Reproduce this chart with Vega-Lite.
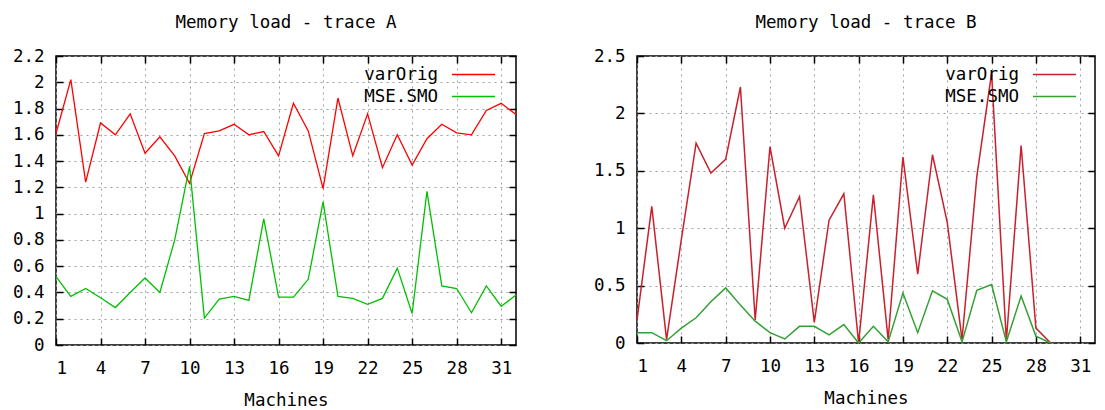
{
  "$schema": "https://vega.github.io/schema/vega-lite/v6.json",
  "background": "white",
  "padding": {"left": 11, "top": 12, "right": 2, "bottom": 2},
  "config": {
    "font": "DejaVu Sans Mono",
    "view": {"stroke": "black", "strokeWidth": 1.5},
    "axis": {
      "labelFont": "DejaVu Sans Mono", "labelFontSize": 17.5, "labelColor": "black",
      "titleFont": "DejaVu Sans Mono", "titleFontSize": 17.5, "titleFontWeight": "normal", "titleColor": "black",
      "domain": false, "tickColor": "black", "tickSize": -7, "tickWidth": 1.5,
      "gridColor": "#a0a0a0", "gridDash": [2, 4], "gridWidth": 1, "gridOpacity": 1
    },
    "axisX": {"labelPadding": 21, "titlePadding": 15},
    "axisY": {"labelPadding": 19},
    "title": {"font": "DejaVu Sans Mono", "fontSize": 17.5, "fontWeight": "normal", "color": "black", "anchor": "middle", "baseline": "bottom", "offset": 16},
    "legend": {
      "orient": "none", "legendX": 406, "legendY": 7, "padding": 0,
      "title": null, "symbolType": "M-2,0H2", "symbolSize": 462, "symbolStrokeWidth": 1.5,
      "labelFont": "DejaVu Sans Mono", "labelFontSize": 17.5, "labelColor": "black",
      "labelAlign": "right", "labelOffset": -47, "rowPadding": 2
    },
    "concat": {"spacing": 72}
  },
  "datasets": {
    "A": [
      {"machine": 1, "series": "varOrig", "value": 1.61},
      {"machine": 2, "series": "varOrig", "value": 2.02},
      {"machine": 3, "series": "varOrig", "value": 1.24},
      {"machine": 4, "series": "varOrig", "value": 1.69},
      {"machine": 5, "series": "varOrig", "value": 1.6},
      {"machine": 6, "series": "varOrig", "value": 1.76},
      {"machine": 7, "series": "varOrig", "value": 1.46},
      {"machine": 8, "series": "varOrig", "value": 1.585},
      {"machine": 9, "series": "varOrig", "value": 1.44},
      {"machine": 10, "series": "varOrig", "value": 1.23},
      {"machine": 11, "series": "varOrig", "value": 1.61},
      {"machine": 12, "series": "varOrig", "value": 1.63},
      {"machine": 13, "series": "varOrig", "value": 1.68},
      {"machine": 14, "series": "varOrig", "value": 1.6},
      {"machine": 15, "series": "varOrig", "value": 1.625},
      {"machine": 16, "series": "varOrig", "value": 1.44},
      {"machine": 17, "series": "varOrig", "value": 1.84},
      {"machine": 18, "series": "varOrig", "value": 1.63},
      {"machine": 19, "series": "varOrig", "value": 1.19},
      {"machine": 20, "series": "varOrig", "value": 1.88},
      {"machine": 21, "series": "varOrig", "value": 1.44},
      {"machine": 22, "series": "varOrig", "value": 1.76},
      {"machine": 23, "series": "varOrig", "value": 1.35},
      {"machine": 24, "series": "varOrig", "value": 1.6},
      {"machine": 25, "series": "varOrig", "value": 1.37},
      {"machine": 26, "series": "varOrig", "value": 1.57},
      {"machine": 27, "series": "varOrig", "value": 1.68},
      {"machine": 28, "series": "varOrig", "value": 1.615},
      {"machine": 29, "series": "varOrig", "value": 1.6},
      {"machine": 30, "series": "varOrig", "value": 1.785},
      {"machine": 31, "series": "varOrig", "value": 1.84},
      {"machine": 32, "series": "varOrig", "value": 1.755},
      {"machine": 1, "series": "MSE.SMO", "value": 0.52},
      {"machine": 2, "series": "MSE.SMO", "value": 0.37},
      {"machine": 3, "series": "MSE.SMO", "value": 0.43},
      {"machine": 4, "series": "MSE.SMO", "value": 0.36},
      {"machine": 5, "series": "MSE.SMO", "value": 0.285},
      {"machine": 6, "series": "MSE.SMO", "value": 0.4},
      {"machine": 7, "series": "MSE.SMO", "value": 0.51},
      {"machine": 8, "series": "MSE.SMO", "value": 0.4},
      {"machine": 9, "series": "MSE.SMO", "value": 0.8},
      {"machine": 10, "series": "MSE.SMO", "value": 1.36},
      {"machine": 11, "series": "MSE.SMO", "value": 0.205},
      {"machine": 12, "series": "MSE.SMO", "value": 0.35},
      {"machine": 13, "series": "MSE.SMO", "value": 0.37},
      {"machine": 14, "series": "MSE.SMO", "value": 0.34},
      {"machine": 15, "series": "MSE.SMO", "value": 0.96},
      {"machine": 16, "series": "MSE.SMO", "value": 0.365},
      {"machine": 17, "series": "MSE.SMO", "value": 0.365},
      {"machine": 18, "series": "MSE.SMO", "value": 0.5},
      {"machine": 19, "series": "MSE.SMO", "value": 1.09},
      {"machine": 20, "series": "MSE.SMO", "value": 0.37},
      {"machine": 21, "series": "MSE.SMO", "value": 0.355},
      {"machine": 22, "series": "MSE.SMO", "value": 0.31},
      {"machine": 23, "series": "MSE.SMO", "value": 0.355},
      {"machine": 24, "series": "MSE.SMO", "value": 0.585},
      {"machine": 25, "series": "MSE.SMO", "value": 0.24},
      {"machine": 26, "series": "MSE.SMO", "value": 1.17},
      {"machine": 27, "series": "MSE.SMO", "value": 0.45},
      {"machine": 28, "series": "MSE.SMO", "value": 0.43},
      {"machine": 29, "series": "MSE.SMO", "value": 0.245},
      {"machine": 30, "series": "MSE.SMO", "value": 0.45},
      {"machine": 31, "series": "MSE.SMO", "value": 0.295},
      {"machine": 32, "series": "MSE.SMO", "value": 0.38}
    ],
    "B": [
      {"machine": 1, "series": "varOrig", "value": 0.2},
      {"machine": 2, "series": "varOrig", "value": 1.19},
      {"machine": 3, "series": "varOrig", "value": 0.03},
      {"machine": 4, "series": "varOrig", "value": 0.9},
      {"machine": 5, "series": "varOrig", "value": 1.74},
      {"machine": 6, "series": "varOrig", "value": 1.48},
      {"machine": 7, "series": "varOrig", "value": 1.6},
      {"machine": 8, "series": "varOrig", "value": 2.23},
      {"machine": 9, "series": "varOrig", "value": 0.2},
      {"machine": 10, "series": "varOrig", "value": 1.71},
      {"machine": 11, "series": "varOrig", "value": 1.0},
      {"machine": 12, "series": "varOrig", "value": 1.275},
      {"machine": 13, "series": "varOrig", "value": 0.18},
      {"machine": 14, "series": "varOrig", "value": 1.07},
      {"machine": 15, "series": "varOrig", "value": 1.3},
      {"machine": 16, "series": "varOrig", "value": 0.0},
      {"machine": 17, "series": "varOrig", "value": 1.29},
      {"machine": 18, "series": "varOrig", "value": 0.03},
      {"machine": 19, "series": "varOrig", "value": 1.62},
      {"machine": 20, "series": "varOrig", "value": 0.6},
      {"machine": 21, "series": "varOrig", "value": 1.64},
      {"machine": 22, "series": "varOrig", "value": 1.05},
      {"machine": 23, "series": "varOrig", "value": 0.03},
      {"machine": 24, "series": "varOrig", "value": 1.45},
      {"machine": 25, "series": "varOrig", "value": 2.35},
      {"machine": 26, "series": "varOrig", "value": 0.02},
      {"machine": 27, "series": "varOrig", "value": 1.72},
      {"machine": 28, "series": "varOrig", "value": 0.13},
      {"machine": 29, "series": "varOrig", "value": 0.0},
      {"machine": 1, "series": "MSE.SMO", "value": 0.09},
      {"machine": 2, "series": "MSE.SMO", "value": 0.09},
      {"machine": 3, "series": "MSE.SMO", "value": 0.02},
      {"machine": 4, "series": "MSE.SMO", "value": 0.13},
      {"machine": 5, "series": "MSE.SMO", "value": 0.22},
      {"machine": 6, "series": "MSE.SMO", "value": 0.36},
      {"machine": 7, "series": "MSE.SMO", "value": 0.48},
      {"machine": 8, "series": "MSE.SMO", "value": 0.33},
      {"machine": 9, "series": "MSE.SMO", "value": 0.19},
      {"machine": 10, "series": "MSE.SMO", "value": 0.09},
      {"machine": 11, "series": "MSE.SMO", "value": 0.035},
      {"machine": 12, "series": "MSE.SMO", "value": 0.145},
      {"machine": 13, "series": "MSE.SMO", "value": 0.145},
      {"machine": 14, "series": "MSE.SMO", "value": 0.07},
      {"machine": 15, "series": "MSE.SMO", "value": 0.16},
      {"machine": 16, "series": "MSE.SMO", "value": 0.0},
      {"machine": 17, "series": "MSE.SMO", "value": 0.145},
      {"machine": 18, "series": "MSE.SMO", "value": 0.01},
      {"machine": 19, "series": "MSE.SMO", "value": 0.435},
      {"machine": 20, "series": "MSE.SMO", "value": 0.09},
      {"machine": 21, "series": "MSE.SMO", "value": 0.455},
      {"machine": 22, "series": "MSE.SMO", "value": 0.38},
      {"machine": 23, "series": "MSE.SMO", "value": 0.01},
      {"machine": 24, "series": "MSE.SMO", "value": 0.46},
      {"machine": 25, "series": "MSE.SMO", "value": 0.51},
      {"machine": 26, "series": "MSE.SMO", "value": 0.01},
      {"machine": 27, "series": "MSE.SMO", "value": 0.41},
      {"machine": 28, "series": "MSE.SMO", "value": 0.06},
      {"machine": 29, "series": "MSE.SMO", "value": 0.0}
    ]
  },
  "hconcat": [
    {
      "width": 460, "height": 289,
      "title": "Memory load - trace A",
      "data": {"name": "A"},
      "layer": [
        {
          "mark": {"type": "line", "strokeWidth": 1.3},
          "encoding": {
            "x": {"field": "machine", "type": "quantitative", "scale": {"domain": [1, 32], "nice": false, "zero": false},
                  "axis": {"values": [1, 4, 7, 10, 13, 16, 19, 22, 25, 28, 31], "format": "d", "title": "Machines", "grid": true}},
            "y": {"field": "value", "type": "quantitative", "scale": {"domain": [0, 2.2], "nice": false},
                  "axis": {"values": [0, 0.2, 0.4, 0.6, 0.8, 1, 1.2, 1.4, 1.6, 1.8, 2, 2.2], "format": "~g", "title": null, "grid": true}},
            "color": {"field": "series", "type": "nominal", "sort": null,
                      "scale": {"domain": ["varOrig", "MSE.SMO"], "range": ["#ff0000", "#00c000"]}}
          }
        },
        {
          "mark": {"type": "line", "opacity": 0},
          "encoding": {
            "x": {"field": "machine", "type": "quantitative",
                  "axis": {"orient": "top", "values": [1, 4, 7, 10, 13, 16, 19, 22, 25, 28, 31], "labels": false, "title": null, "grid": false}},
            "y": {"field": "value", "type": "quantitative",
                  "axis": {"orient": "right", "values": [0, 0.2, 0.4, 0.6, 0.8, 1, 1.2, 1.4, 1.6, 1.8, 2, 2.2], "labels": false, "title": null, "grid": false}},
            "detail": {"field": "series"}
          }
        }
      ],
      "resolve": {"axis": {"x": "independent", "y": "independent"}}
    },
    {
      "width": 458, "height": 287,
      "title": "Memory load - trace B",
      "data": {"name": "B"},
      "layer": [
        {
          "mark": {"type": "line", "strokeWidth": 1.5},
          "encoding": {
            "x": {"field": "machine", "type": "quantitative", "scale": {"domain": [1, 32], "nice": false, "zero": false},
                  "axis": {"values": [1, 4, 7, 10, 13, 16, 19, 22, 25, 28, 31], "format": "d", "title": "Machines", "grid": true}},
            "y": {"field": "value", "type": "quantitative", "scale": {"domain": [0, 2.5], "nice": false},
                  "axis": {"values": [0, 0.5, 1, 1.5, 2, 2.5], "format": "~g", "title": null, "grid": true}},
            "color": {"field": "series", "type": "nominal", "sort": null,
                      "scale": {"domain": ["varOrig", "MSE.SMO"], "range": ["#c8202c", "#34a034"]}}
          }
        },
        {
          "mark": {"type": "line", "opacity": 0},
          "encoding": {
            "x": {"field": "machine", "type": "quantitative",
                  "axis": {"orient": "top", "values": [1, 4, 7, 10, 13, 16, 19, 22, 25, 28, 31], "labels": false, "title": null, "grid": false}},
            "y": {"field": "value", "type": "quantitative",
                  "axis": {"orient": "right", "values": [0, 0.5, 1, 1.5, 2, 2.5], "labels": false, "title": null, "grid": false}},
            "detail": {"field": "series"}
          }
        }
      ],
      "resolve": {"axis": {"x": "independent", "y": "independent"}}
    }
  ],
  "resolve": {"scale": {"color": "independent"}, "legend": {"color": "independent"}}
}
